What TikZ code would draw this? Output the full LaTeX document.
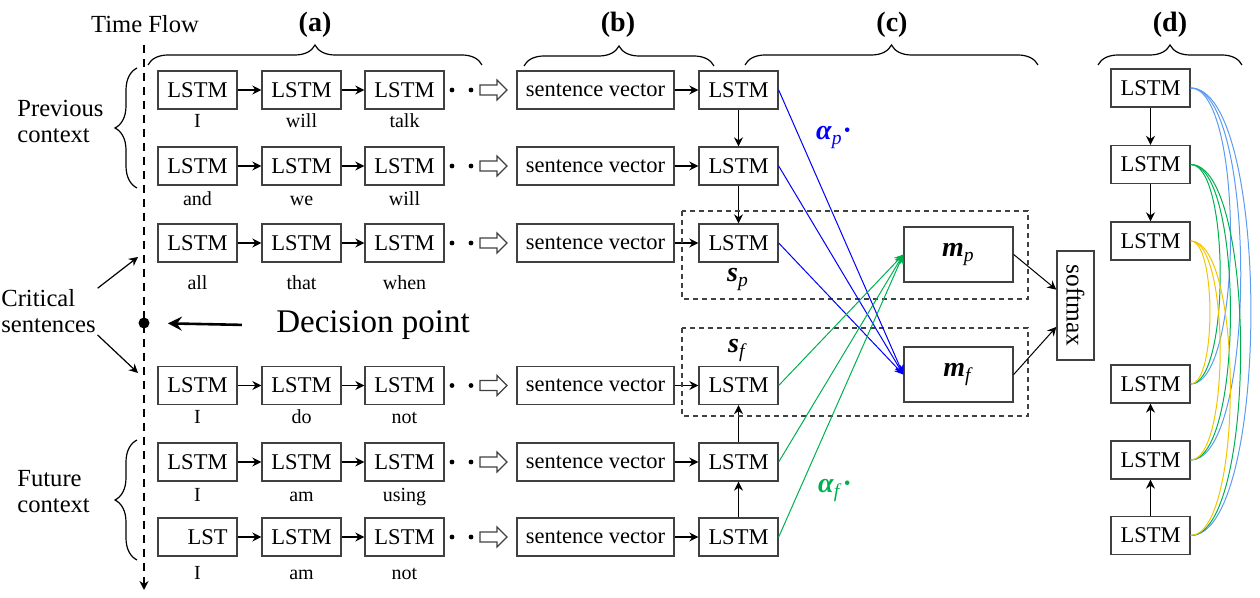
\documentclass[tikz,border=0pt]{standalone}
\usepackage{fontspec}
\setmainfont{Liberation Serif}
\usetikzlibrary{arrows.meta, positioning, decorations.pathreplacing, calc}
\definecolor{cline}{HTML}{404040}
\definecolor{cblue}{HTML}{0000FF}
\definecolor{cgreen}{HTML}{00B050}
\definecolor{clblue}{HTML}{5B9BF0}
\definecolor{cyel}{HTML}{F5C400}
\newcommand{\bfit}[1]{\textbf{\textit{#1}}}

\begin{document}
\begin{tikzpicture}[
  x=0.5pt, y=-0.5pt,
  >={Stealth[length=4.5pt, width=4.5pt, inset=1.5pt]},
  cell/.style={draw=cline, line width=0.7pt, minimum width=39.5pt, minimum height=19pt,
               inner sep=0pt, font=\fontsize{11.25}{13}\selectfont},
  svec/.style={cell, minimum width=78.5pt},
  mem/.style={cell, minimum width=54.5pt, minimum height=27.5pt, font=\fontsize{14}{16}\selectfont},
  word/.style={font=\fontsize{10}{12}\selectfont, anchor=base, inner sep=0pt},
  side/.style={font=\fontsize{12.3}{13}\selectfont, align=left, anchor=west, inner sep=0pt},
  tag/.style={font=\bfseries\fontsize{14}{16}\selectfont, anchor=base, inner sep=0pt},
  lbl/.style={font=\fontsize{14}{16}\selectfont, anchor=base, inner sep=0pt},
  arr/.style={->, line width=0.6pt, draw=black},
  att/.style={->, line width=0.5pt},
  hollow/.style={draw=cline, line width=0.6pt},
  grp/.style={draw=cline, dash pattern=on 2.5pt off 2pt, line width=0.6pt},
  br/.style={decorate, decoration={brace, amplitude=10pt}, line width=0.6pt},
  sbr/.style={decorate, decoration={brace, amplitude=11pt}, line width=0.6pt},
  ]
\useasboundingbox (0,0) rectangle (1260,598);

% time axis
\node[side, anchor=base] (flow) at (145,33) {Time Flow};
\coordinate (ttop) at (144,45);
\coordinate (tbot) at (144,590);
\draw[->, line width=1pt, dash pattern=on 4pt off 3pt] (ttop) -- (tbot);
\node[circle, fill, inner sep=0pt, minimum size=5.5pt] (dp) at (144,323) {};
\node[font=\fontsize{16.5}{18}\selectfont, anchor=base, inner sep=0pt] (dec) at (373,333) {Decision point};
\draw[->, line width=1.3pt, >={Stealth[length=7pt, width=7pt, inset=2.5pt]},
      shorten <=17pt, shorten >=9pt] (dec.west) -- (dp.east);

% context labels
\node[side] (prev) at (17,121.7) {Previous\\context};
\node[side] (fut) at (17,491.7) {Future\\context};
\node[side] (crit) at (1,311.5) {Critical\\sentences};
\coordinate (cup) at (138,257);
\coordinate (cdn) at (138,373);
\draw[arr, shorten <=1pt] (crit.north east) -- (cup);
\draw[arr, shorten <=1pt] (crit.south east) -- (cdn);
\draw[sbr] (137,188) -- (137,68);
\draw[sbr] (137,560) -- (137,440);

% (a) word level and (b) sentence level
\foreach \r/\y/\wy/\t/\wa/\wb/\wc in {1/90/128/LSTM/I/will/talk, 2/166/206/LSTM/and/we/will,
    3/243/290/LSTM/all/that/when, 4/385.5/424/LSTM/I/do/not,
    5/462/502/LSTM/I/am/using, 6/537/580/{\phantom{M}LST}/I/am/not}
{
  \node[cell] (a\r1) at (197.5,\y) {\t};
  \node[cell] (a\r2) at (301.5,\y) {LSTM};
  \node[cell] (a\r3) at (404.5,\y) {LSTM};
  \node[word] at (197.5,\wy) {\wa};
  \node[word] at (301.5,\wy) {\wb};
  \node[word] at (404.5,\wy) {\wc};
  \draw[arr] (a\r1) -- (a\r2);
  \draw[arr] (a\r2) -- (a\r3);
  \fill (452,\y) circle (1.2pt) (471,\y) circle (1.2pt);
  \coordinate (h\r) at (480,\y);
  \draw[hollow] (h\r) ++(0,-5) -- ++(17,0) -- ++(0,-5) -- ++(10,10)
        -- ++(-10,10) -- ++(0,-5) -- ++(-17,0) -- cycle;
  \node[svec] (s\r) at (595.5,\y) {sentence vector};
  \node[cell] (b\r) at (738.5,\y) {LSTM};
  \draw[arr] (s\r) -- (b\r);
}
\draw[arr] (b1) -- (b2);
\draw[arr] (b2) -- (b3);
\draw[arr] (b6) -- (b5);
\draw[arr] (b5) -- (b4);

% (c) attention
\draw[grp] (682,211) rectangle (1028,299);
\draw[grp] (682,328) rectangle (1028,416);
\node[lbl] (sp) at (738,282) {\bfit{s}\textsubscript{\textit{p}}};
\node[lbl] (sf) at (738,353) {\bfit{s}\textsubscript{\textit{f}}};
\node[mem] (mp) at (958.5,254.5) {\bfit{m}\textsubscript{\textit{p}}};
\node[mem] (mf) at (958.5,374.5) {\bfit{m}\textsubscript{\textit{f}}};
\node[cell, rotate=-90, minimum width=54.5pt, minimum height=18.5pt,
      font=\fontsize{12.7}{14}\selectfont] (sm) at (1075.5,305.5) {softmax};
\foreach \r in {1,2,3} \draw[att, cblue] (b\r.east) -- (mf.west);
\foreach \r in {4,5,6} \draw[att, cgreen] (b\r.east) -- (mp.west);
\draw[arr, line width=0.5pt] (mp.east) -- (sm);
\draw[arr, line width=0.5pt] (mf.east) -- (sm);
\node[lbl, text=cblue] (ap) at (834,140) {\bfit{α}\textsubscript{\textit{p}}\textbf{·}};
\node[lbl, text=cgreen] (af) at (835,493) {\bfit{α}\textsubscript{\textit{f}}\textbf{·}};

% (d) self attention
\foreach \r/\y in {1/88, 2/164.5, 3/241, 4/384, 5/460, 6/535.5}
  \node[cell] (d\r) at (1150.5,\y) {LSTM};
\draw[arr] (d1) -- (d2);
\draw[arr] (d2) -- (d3);
\draw[arr] (d6) -- (d5);
\draw[arr] (d5) -- (d4);
\foreach \u/\c in {1/clblue, 2/cgreen, 3/cyel}
  \foreach \v in {4,5,6}
    \draw[\c, line width=0.5pt] (d\u.east) to[out=0, in=0, looseness=0.46] (d\v.east);

% part braces
\draw[br] (148,65) -- (482,65);
\draw[br] (524,66) -- (714,66);
\draw[br] (745,65) -- (1038,65);
\draw[br] (1098,65) -- (1242,65);
\node[tag] (ta) at (315,32) {(a)};
\node[tag] (tb) at (618,32) {(b)};
\node[tag] (tc) at (892,32) {(c)};
\node[tag] (td) at (1170,32) {(d)};
\end{tikzpicture}
\end{document}
